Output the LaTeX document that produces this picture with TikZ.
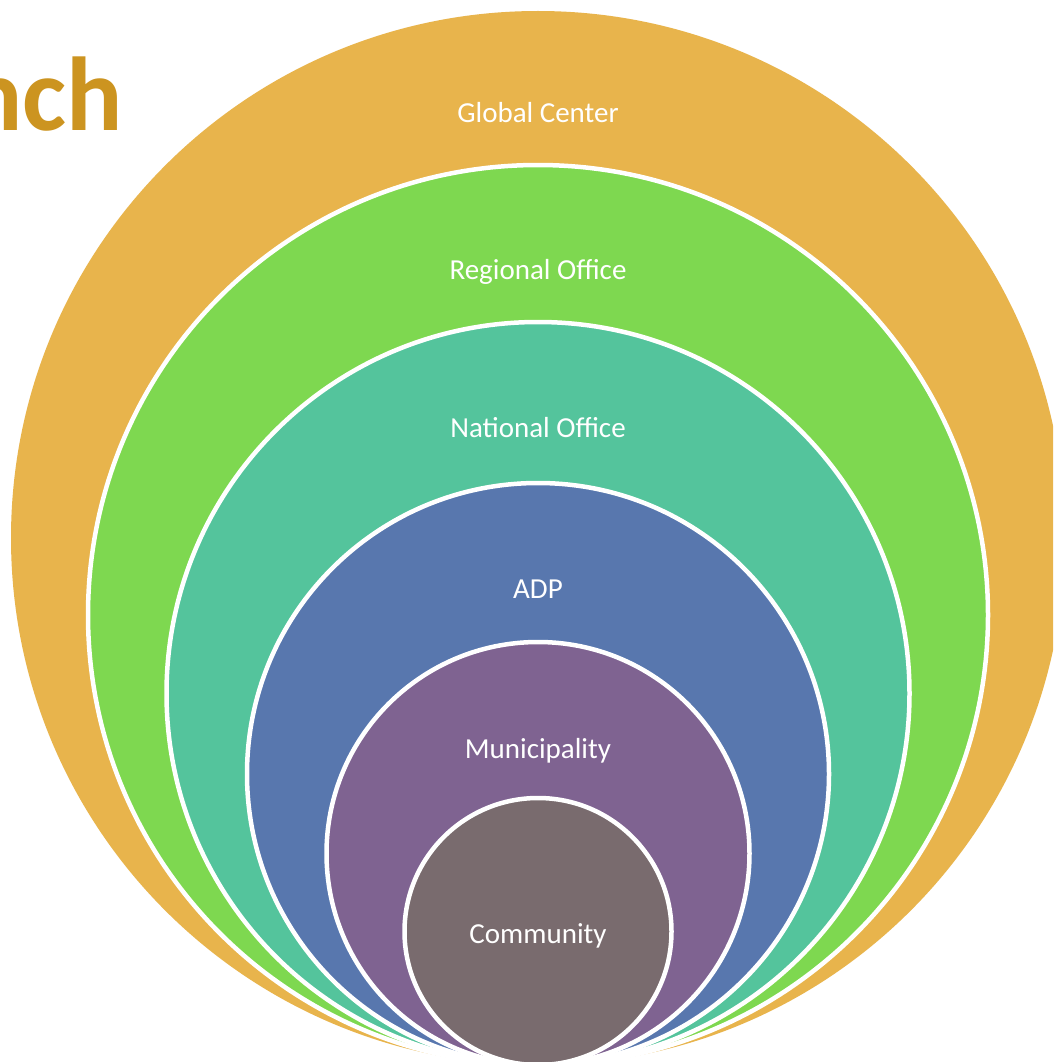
\documentclass[tikz,border=0pt]{standalone}
\usepackage{fontspec}
\setmainfont{Carlito}
\definecolor{cgold}{HTML}{E8B44C}
\definecolor{cgreen}{HTML}{7ED850}
\definecolor{cteal}{HTML}{54C49C}
\definecolor{cblue}{HTML}{5877AE}
\definecolor{cpurple}{HTML}{7F6391}
\definecolor{cgray}{HTML}{796B6E}
\definecolor{ctitle}{HTML}{CC9420}
\tikzset{
  ring/.style={draw=white, line width=4.5pt},
  lbl/.style={text=white, font=\fontsize{29}{34}\selectfont, anchor=base, inner sep=0pt},
}
\begin{document}
\begin{tikzpicture}[x=1pt,y=-1pt]
\useasboundingbox (0,0) rectangle (1053,1062);
\clip (0,0) rectangle (1053,1062);
\fill[white] (0,0) rectangle (1053,1062);
% outer circle
\fill[cgold] (538,538) circle[radius=527];
\filldraw[ring, fill=cgreen]  (538,615)   circle[radius=450];
\filldraw[ring, fill=cteal]   (538,693.5) circle[radius=371.5];
\filldraw[ring, fill=cblue]   (538,774)   circle[radius=291];
\filldraw[ring, fill=cpurple] (538,853.5) circle[radius=211.5];
\filldraw[ring, fill=cgray]   (538,931.5) circle[radius=133.5];
% labels
\node[lbl] (global)    at (538,123) {Global Center};
\node[lbl] (regional)  at (538,279) {Regional Office};
\node[lbl] (national)  at (538,437) {National Office};
\node[lbl] (adp)       at (538,598) {ADP};
\node[lbl] (muni)      at (538,758) {Municipality};
\node[lbl] (community) at (538,943) {Community};
% title fragment
\node[text=ctitle, font=\fontsize{105}{110}\selectfont\bfseries, anchor=base east, inner sep=0pt] (title) at (123,131) {nch};
\end{tikzpicture}
\end{document}
